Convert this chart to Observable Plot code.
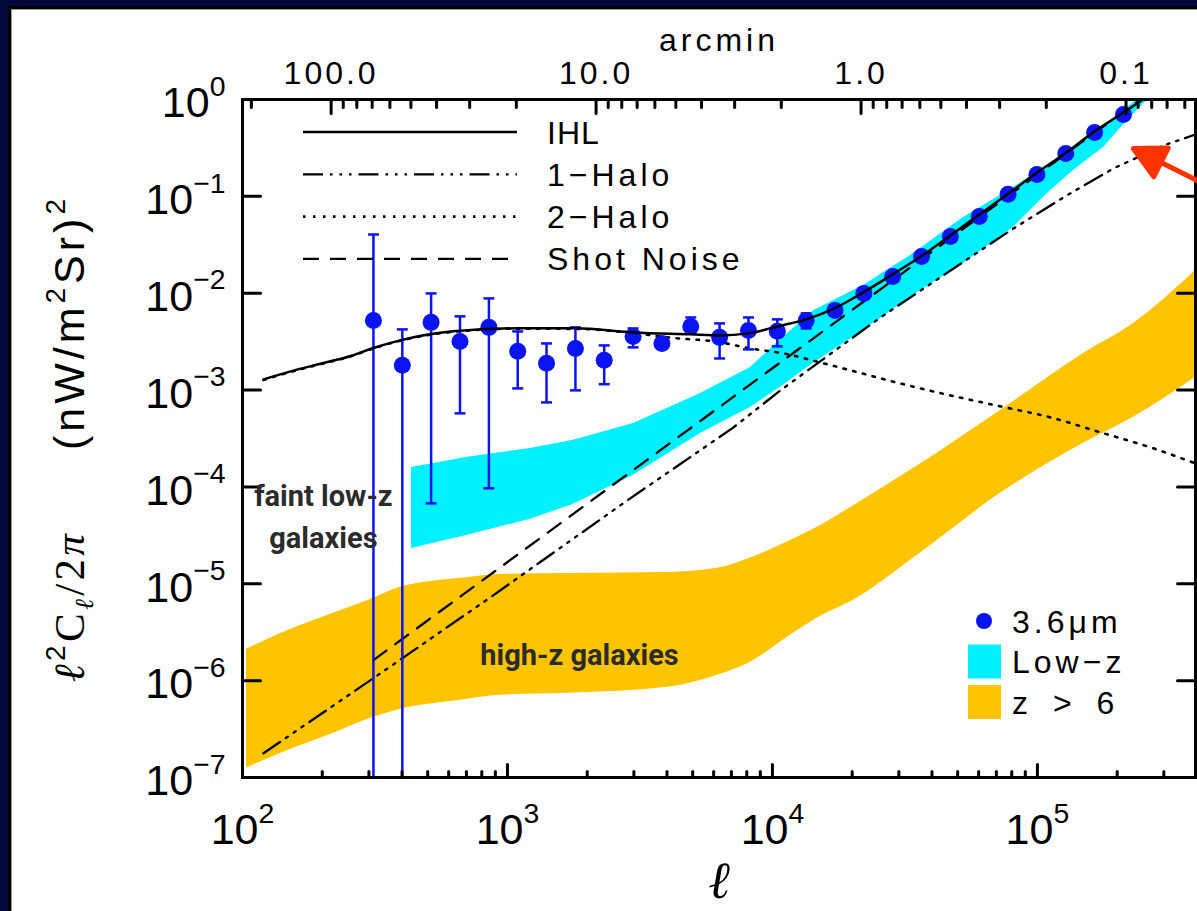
<!DOCTYPE html>
<html><head><meta charset="utf-8">
<script src="https://cdn.jsdelivr.net/npm/d3@7"></script>
<script src="https://cdn.jsdelivr.net/npm/@observablehq/plot@0.6"></script>
<style>
html,body{margin:0;padding:0;}
body{width:1197px;height:911px;overflow:hidden;position:relative;background:#03093f;font-family:"Liberation Sans",Arial,sans-serif;}
#blk{position:absolute;left:8px;top:6px;width:1189px;height:905px;background:#000;}
#wrap{position:absolute;left:11px;top:9px;width:1186px;height:902px;background:#fff;border-left:1px solid #9a9a9a;border-top:1px solid #9a9a9a;box-sizing:border-box;}
#chart{position:absolute;left:0;top:0;}
#legend{position:absolute;left:0;top:0;pointer-events:none;}
</style></head>
<body>
<div id="blk"></div>
<div id="wrap"><div id="chart"></div></div>
<svg id="legend" width="1197" height="911"></svg>
<script>
// ---------------- data ----------------
// 3.6 micron fluctuation measurements
const ell = [312,401,515,662,851,1093,1404,1805,2318,2979,3827,4918,6318,8120,10432,13405,17222,22128,28430,36530,46940,60310,77490,99560,127930,164370,211200];
const cl  = [5.24e-3,1.80e-3,5.00e-3,3.18e-3,4.44e-3,2.51e-3,1.89e-3,2.69e-3,2.03e-3,3.58e-3,3.03e-3,4.54e-3,3.50e-3,4.13e-3,4.04e-3,5.24e-3,6.65e-3,9.96e-3,1.49e-2,2.40e-2,3.86e-2,6.20e-2,0.105,0.168,0.277,0.456,0.700];
const errHi = [4.04e-2,4.23e-3,9.95e-3,5.77e-3,8.84e-3,4.03e-3,3.03e-3,4.44e-3,2.89e-3,4.33e-3,3.3e-3,5.62e-3,4.88e-3,5.62e-3,5.37e-3,6.19e-3,6.9e-3,1.03e-2,1.54e-2,2.48e-2,3.99e-2,6.4e-2,0.108,0.173,0.285,0.47,0.72];
const errLo = [1e-9,1e-9,6.77e-5,5.75e-4,9.68e-5,1.04e-3,7.46e-4,9.93e-4,1.15e-3,2.76e-3,2.8e-3,3.85e-3,2.12e-3,2.63e-3,2.83e-3,4.33e-3,6.4e-3,9.6e-3,1.44e-2,2.32e-2,3.73e-2,6.0e-2,0.102,0.163,0.269,0.442,0.68];

// IHL model (total)
const ihlL = [120,152,197,256,312,394,625,1091,1806,2985,4907,6310,8115,10440,13420,17130,22040,28370,36810,46960,60430,77800,100000,128600,164000,211200,291000];
const ihlV = [1.29e-3,1.56e-3,1.87e-3,2.25e-3,2.72e-3,3.26e-3,4.04e-3,4.34e-3,4.34e-3,3.94e-3,3.76e-3,3.67e-3,3.85e-3,4.54e-3,5.37e-3,6.97e-3,1.02e-2,1.56e-2,2.45e-2,3.95e-2,6.50e-2,0.107,0.177,0.284,0.468,0.734,1.33];
// 1-halo term
const oneL = [120,312,863,2838,7129,10720,25560,79090,125400,193600,298900,394700];
const oneV = [1.78e-7,1.06e-6,7.26e-6,7.28e-5,4.12e-4,9.93e-4,5.62e-3,4.45e-2,9.75e-2,0.194,0.335,0.435];
// 2-halo term
const twoL = [120,152,197,256,312,394,625,1091,1806,2985,4018,6370,8260,11010,15570,19680,30390,46960,72500,111900,172900,267000,394700];
const twoV = [1.27e-3,1.54e-3,1.85e-3,2.23e-3,2.70e-3,3.23e-3,4.0e-3,4.3e-3,4.28e-3,3.88e-3,3.50e-3,3.11e-3,2.69e-3,2.39e-3,1.89e-3,1.60e-3,1.17e-3,8.81e-4,6.79e-4,5.23e-4,3.66e-4,2.56e-4,1.75e-4];
// shot noise
const shotL = [312,10000,300000];
const shotV = [1.63e-6,1.68e-3,1.51];

// Low-z galaxies band
const lowL  = [434.2,706.6,1221,1775,2988,5349,8260,10720,14280,22050,33180,52580,81180,109100,136700,177500,218600,267000];
const lowHi = [1.59e-4,2.02e-4,2.50e-4,3.03e-4,4.53e-4,9.24e-4,1.71e-3,3.3e-3,6.6e-3,1.20e-2,2.45e-2,6.05e-2,0.1236,0.2085,0.320,0.514,0.827,1.30];
const lowLo = [2.32e-5,3.17e-5,4.63e-5,6.61e-5,1.32e-4,3.57e-4,6.62e-4,1.07e-3,1.89e-3,4.13e-3,9.06e-3,2.03e-2,4.78e-2,0.107,0.185,0.320,0.607,1.07];

// z > 6 galaxies band
const highL  = [103.5,142.8,220.5,304,394.7,664.6,941,1684,4017,6201,8260,11690,15180,20220,35260,72520,149200,230300,394700];
const highHi = [2.11e-6,3.16e-6,4.96e-6,6.9e-6,9.20e-6,1.14e-5,1.25e-5,1.28e-5,1.31e-5,1.45e-5,1.85e-5,2.8e-5,4.0e-5,6.4e-5,1.65e-4,6.17e-4,2.39e-3,4.88e-3,1.72e-2];
const highLo = [1.25e-7,1.82e-7,2.86e-7,4.09e-7,5.07e-7,6.28e-7,7.07e-7,7.41e-7,8.55e-7,1.14e-6,1.55e-6,2.94e-6,4.62e-6,6.76e-6,1.97e-5,8.59e-5,2.82e-4,5.23e-4,1.35e-3];

// ticks
const majorX = [100,1000,10000,100000];
const minorX = [200,300,400,500,600,700,800,900,2000,3000,4000,5000,6000,7000,8000,9000,20000,30000,40000,50000,60000,70000,80000,90000,200000,300000];
const majorY = [1e-7,1e-6,1e-5,1e-4,1e-3,1e-2,1e-1,1];
const arcMajor = [100,10,1,0.1];
const arcMajorLabels = ["100.0","10.0","1.0","0.1"];
const arcMinor = [200,90,80,70,60,50,40,30,20,9,8,7,6,5,4,3,2,0.9,0.8,0.7,0.6,0.5,0.4,0.3,0.2,0.09,0.08,0.07,0.06];

// annotations
const annotL = [202,1870];
const annotV = [5.27e-5,2.01e-6];
const annotText = ["faint low-z\ngalaxies","high-z galaxies"];
const arrowTip = {l: 2.30e5, v: 0.312};

// titles and legend labels
const topTitle = "arcmin";
const xTitle = "\u2113";
const yTitleA = "\u2113\u00b2C\u2113/2\u03c0";
const yTitleB = "(nW/m\u00b2Sr)\u00b2";
const modelNames = ["IHL","1\u2212Halo","2\u2212Halo","Shot Noise"];
const dataNames = ["3.6\u03bcm","Low\u2212z","z > 6"];

// ---------------- styling ----------------
const BLUE = "#0a14f0", CYAN = "#00f0ff", GOLD = "#ffc400", RED = "#ff3300";
const DASH_1H = "20,7,2.5,7,2.5,7,2.5,7";
const DASH_2H = "2.5,7.5";
const DASH_SN = "16,11";

const points = ell.map((l,i)=>({l, v: cl[i], lo: errLo[i], hi: errHi[i]}));
const caps = points.flatMap(p => [{l:p.l, v:p.lo}, {l:p.l, v:p.hi}]);
const pairs = (L,V) => L.map((l,i)=>({l, v: V[i]}));
const band = (L,LO,HI) => L.map((l,i)=>({l, lo: LO[i], hi: HI[i]}));
const arcToEll = a => 21600 / a;  // arcmin -> multipole
const arcLabelMap = new Map(arcMajor.map((a,i)=>[arcToEll(a), arcMajorLabels[i]]));
const annots = annotL.map((l,i)=>({l, v: annotV[i], t: annotText[i]}));
const expFmt = d => `10^{${String(Math.round(Math.log10(d))).replace("-", "\u2212")}}`;

const tickShape = {draw(ctx, l){ ctx.moveTo(0,0); ctx.lineTo(0,-l); }};
const arrowShape = {draw(ctx, l){ const h = 31, w = 16; ctx.moveTo(0,0); ctx.lineTo(0,-l+h-2); ctx.moveTo(0,-l); ctx.lineTo(-w,-l+h); ctx.lineTo(w,-l+h); ctx.closePath(); }};
const capSymbol = {draw(ctx, size){ const w = Math.sqrt(size); ctx.moveTo(-w/2,0); ctx.lineTo(w/2,0); }};
const tk = (data, anchor, len, rot) => Plot.vector(data, {
  [anchor === "top" || anchor === "bottom" ? "x" : "y"]: d => d,
  frameAnchor: anchor, length: len, rotate: rot, anchor: "start",
  shape: tickShape, stroke: "black", strokeWidth: 3, fill: "none"
});
const yTitleOpts = {text: d => d, frameAnchor: "left", textAnchor: "middle", lineAnchor: "middle", dx: -172, rotate: -90, fontSize: 43};

const plot = Plot.plot({
  width: 1185, height: 901,
  marginLeft: 230, marginRight: 2, marginTop: 89, marginBottom: 134,
  x: {type: "log", domain: [100, 3.95e5], label: null},
  y: {type: "log", domain: [1e-7, 1], label: null},
  style: {background: "white", fontFamily: "'Liberation Sans', Arial, sans-serif", color: "black", overflow: "visible"},
  marks: [
    Plot.areaY(band(highL, highLo, highHi), {x: "l", y1: "lo", y2: "hi", fill: GOLD, curve: "monotone-x", clip: true}),
    Plot.areaY(band(lowL, lowLo, lowHi), {x: "l", y1: "lo", y2: "hi", fill: CYAN, clip: true}),
    Plot.line(pairs(oneL, oneV), {x: "l", y: "v", stroke: "black", strokeWidth: 2.3, strokeDasharray: DASH_1H, clip: true}),
    Plot.line(pairs(twoL, twoV), {x: "l", y: "v", stroke: "black", strokeWidth: 2.6, strokeDasharray: DASH_2H, curve: "monotone-x", clip: true}),
    Plot.line(pairs(shotL, shotV), {x: "l", y: "v", stroke: "black", strokeWidth: 2.3, strokeDasharray: DASH_SN, clip: true}),
    Plot.ruleX(points, {x: "l", y1: "lo", y2: "hi", stroke: BLUE, strokeWidth: 2.5, clip: true}),
    Plot.dot(caps, {x: "l", y: "v", symbol: capSymbol, r: 6.2, stroke: BLUE, strokeWidth: 2.5, fill: "none", clip: true}),
    Plot.dot(points, {x: "l", y: "v", r: 8.5, fill: BLUE}),
    Plot.line(pairs(ihlL, ihlV), {x: "l", y: "v", stroke: "black", strokeWidth: 2.5, curve: "monotone-x", clip: true}),
    Plot.frame({stroke: "black", strokeWidth: 3}),
    // ticks
    tk(majorX, "bottom", 13, 0),
    tk(minorX, "bottom", 6, 0),
    tk(arcMajor.map(arcToEll), "top", 14, 180),
    tk(arcMinor.map(arcToEll), "top", 8, 180),
    tk(majorY, "left", 18, 90),
    tk(majorY, "right", 18, -90),
    // tick labels
    Plot.axisX(majorX, {anchor: "bottom", tickSize: 0, tickPadding: 36, tickFormat: expFmt, fontSize: 43, label: null}),
    Plot.axisX(arcMajor.map(arcToEll), {anchor: "top", tickSize: 0, tickPadding: 16, tickFormat: d => arcLabelMap.get(d), fontSize: 32, label: null}),
    Plot.axisY(majorY, {anchor: "left", tickSize: 0, tickPadding: 17, tickFormat: expFmt, fontSize: 43, dy: 4, label: null}),
    // titles
    Plot.text([topTitle], {text: d => d, frameAnchor: "top", textAnchor: "middle", lineAnchor: "middle", dy: -59, fontSize: 32}),
    Plot.text([xTitle], {text: d => d, frameAnchor: "bottom", textAnchor: "middle", lineAnchor: "middle", dy: 104, fontSize: 52, fontStyle: "italic", fontFamily: "'DejaVu Serif', serif"}),
    Plot.text([yTitleA], {...yTitleOpts, dy: 168}),
    Plot.text([yTitleB], {...yTitleOpts, dy: -116}),
    // annotations
    Plot.text(annots, {x: "l", y: "v", text: "t", fontSize: 29, fontWeight: 700, fontFamily: "Roboto, 'Liberation Sans', sans-serif", fill: "#2b2b2b", lineHeight: 1.45}),
    Plot.vector([arrowTip], {x: "l", y: "v", length: 78, rotate: -63.4, anchor: "end", shape: arrowShape, stroke: RED, fill: RED, strokeWidth: 5})
  ]
});
document.getElementById("chart").appendChild(plot);

// ---- rich text: superscripts / subscripts ----
const ns = "http://www.w3.org/2000/svg";
function rich(el) {
  const s = el.textContent;
  if (!/[\^_]\{/.test(s)) return;
  const fs = parseFloat(getComputedStyle(el).fontSize) || 16;
  while (el.firstChild) el.removeChild(el.firstChild);
  const re = /([\^_])\{([^}]*)\}/g;
  let last = 0, m, shift = 0;
  const add = (txt, kind) => {
    const t = document.createElementNS(ns, "tspan");
    t.textContent = txt;
    const target = kind === "^" ? -0.5 : kind === "_" ? 0.22 : 0;
    const dy = (target - shift) * fs;
    if (dy) t.setAttribute("dy", dy.toFixed(2));
    shift = target;
    if (kind) t.setAttribute("font-size", (fs * 0.66).toFixed(1));
    el.appendChild(t);
  };
  while ((m = re.exec(s))) { if (m.index > last) add(s.slice(last, m.index), ""); add(m[2], m[1]); last = re.lastIndex; }
  if (last < s.length) add(s.slice(last), "");
}
const allText = [...plot.querySelectorAll("text")];
allText.forEach(rich);
allText.forEach(el => { if (/^\d+\.\d+$/.test(el.textContent)) el.setAttribute("letter-spacing", "3"); });
const arcEl = allText.find(el => el.textContent === topTitle);
if (arcEl) arcEl.setAttribute("letter-spacing", "4");

// y title built from pieces (superscripts, subscript), then fitted to its measured span
function buildPieces(el, segs, target) {
  if (!el) return;
  while (el.firstChild) el.removeChild(el.firstChild);
  let n = 0;
  for (const [t, a] of segs) {
    const ts = document.createElementNS(ns, "tspan");
    ts.textContent = t;
    for (const k in a) ts.setAttribute(k, a[k]);
    el.appendChild(ts);
    n += [...t].length;
  }
  const w = el.getBBox().width;
  if (w > 0 && n > 1) el.setAttribute("letter-spacing", ((target - w) / n).toFixed(2));
}
const dj = "'DejaVu Serif', serif", lib = "'Liberation Serif', serif";
buildPieces(allText.find(el => el.textContent === yTitleA), [
  ["\u2113", {"font-family": dj, "font-style": "italic"}],
  ["2", {"font-size": 28, dy: -19}],
  ["C", {"font-family": lib, dy: 19}],
  ["\u2113", {"font-family": dj, "font-style": "italic", "font-size": 26, dy: 9}],
  ["/2", {"font-family": lib, dy: -9}],
  ["\u03c0", {"font-family": lib, "font-style": "italic"}]
], 153);
buildPieces(allText.find(el => el.textContent === yTitleB), [
  ["(nW/m", {}],
  ["2", {"font-size": 28, dy: -19}],
  ["Sr)", {dy: 19}],
  ["2", {"font-size": 28, dy: -19}]
], 255);

// ---------------- legends (overlay) ----------------
const lg = d3.select("#legend").style("font-family", "'Liberation Sans', Arial, sans-serif");
const modelDash = [null, DASH_1H, DASH_2H, DASH_SN];
const modelWidth = [2.5, 2.3, 2.6, 2.3];
modelNames.forEach((name, i) => {
  const y = 132 + i * 42.3;
  lg.append("line").attr("x1", 303).attr("x2", 517).attr("y1", y).attr("y2", y)
    .attr("stroke", "black").attr("stroke-width", modelWidth[i]).attr("stroke-dasharray", modelDash[i]);
  lg.append("text").attr("x", 547).attr("y", y + 11.5).attr("font-size", 32)
    .attr("letter-spacing", i === 0 ? 1 : 4).text(name);
});
const dataSwatch = [BLUE, CYAN, GOLD];
dataNames.forEach((name, i) => {
  const y = 621 + i * 40.5;
  if (i === 0) lg.append("circle").attr("cx", 984).attr("cy", y).attr("r", 8).attr("fill", dataSwatch[i]);
  else lg.append("rect").attr("x", 968).attr("y", y - 17).attr("width", 33).attr("height", 34).attr("fill", dataSwatch[i]);
  lg.append("text").attr("x", 1012).attr("y", y + 11.5).attr("font-size", 32)
    .attr("letter-spacing", 4).attr("word-spacing", 8).text(name);
});
</script>
</body></html>
